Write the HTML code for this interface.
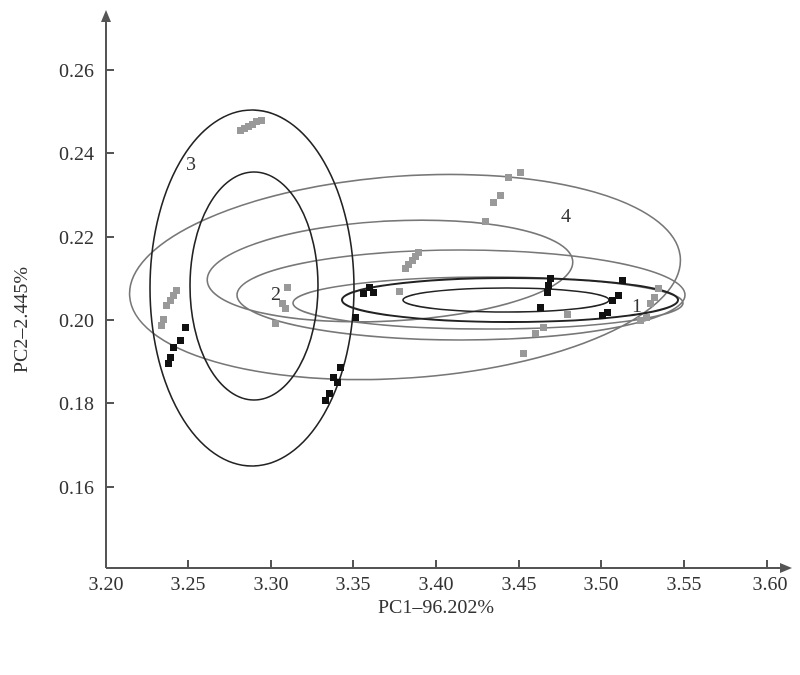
<!DOCTYPE html>
<html><head><style>body{margin:0;background:#fff}svg text{font-family:"Liberation Serif",serif;fill:#333}</style></head><body>
<svg width="800" height="670" xmlns="http://www.w3.org/2000/svg">
<g stroke="#555" stroke-width="2" fill="none">
<line x1="106" y1="568" x2="785" y2="568"/><line x1="106" y1="568" x2="106" y2="18"/>
</g>
<polygon points="106,10 101,22 111,22" fill="#555"/>
<polygon points="792,568 780,563 780,573" fill="#555"/>
<g stroke="#555" stroke-width="2">
<line x1="188" y1="568" x2="188" y2="560"/><line x1="271" y1="568" x2="271" y2="560"/><line x1="353" y1="568" x2="353" y2="560"/><line x1="436" y1="568" x2="436" y2="560"/><line x1="519" y1="568" x2="519" y2="560"/><line x1="601" y1="568" x2="601" y2="560"/><line x1="684" y1="568" x2="684" y2="560"/><line x1="767" y1="568" x2="767" y2="560"/>
<line x1="106" y1="70" x2="114" y2="70"/><line x1="106" y1="153" x2="114" y2="153"/><line x1="106" y1="237" x2="114" y2="237"/><line x1="106" y1="320" x2="114" y2="320"/><line x1="106" y1="403" x2="114" y2="403"/><line x1="106" y1="487" x2="114" y2="487"/>
</g>
<g font-size="20" text-anchor="end">
<text x="94" y="77">0.26</text><text x="94" y="160">0.24</text><text x="94" y="244">0.22</text><text x="94" y="327">0.20</text><text x="94" y="410">0.18</text><text x="94" y="494">0.16</text>
</g>
<g font-size="20" text-anchor="middle">
<text x="106" y="590">3.20</text><text x="188" y="590">3.25</text><text x="271" y="590">3.30</text><text x="353" y="590">3.35</text><text x="436" y="590">3.40</text><text x="519" y="590">3.45</text><text x="601" y="590">3.50</text><text x="684" y="590">3.55</text><text x="770" y="590">3.60</text>
<text x="436" y="613">PC1–96.202%</text>
<text transform="translate(27,320) rotate(-90)">PC2–2.445%</text>
</g>
<g fill="none" stroke="#777" stroke-width="1.6">
<ellipse cx="405" cy="277" rx="276" ry="101" transform="rotate(-4 405 277)"/>
<ellipse cx="390" cy="271" rx="183" ry="50" transform="rotate(-3 390 271)"/>
<ellipse cx="461" cy="295" rx="224" ry="45"/>
<ellipse cx="488" cy="303" rx="195" ry="26"/>
</g>
<g fill="none" stroke="#222" stroke-width="1.6">
<ellipse cx="252" cy="288" rx="102" ry="178"/>
<ellipse cx="254" cy="286" rx="64" ry="114"/>
<ellipse cx="510" cy="300" rx="168" ry="22" stroke-width="2"/>
<ellipse cx="506" cy="300" rx="103" ry="12"/>
</g>
<g font-size="20"><text x="186" y="170">3</text><text x="271" y="300">2</text><text x="561" y="222">4</text><text x="632" y="312">1</text></g>
<g fill="#999">
<rect x="237" y="127" width="7" height="7"/><rect x="241" y="125" width="7" height="7"/><rect x="245" y="123" width="7" height="7"/><rect x="249" y="121" width="7" height="7"/><rect x="253" y="118" width="7" height="7"/><rect x="258" y="117" width="7" height="7"/>
<rect x="158" y="322" width="7" height="7"/><rect x="160" y="316" width="7" height="7"/><rect x="163" y="302" width="7" height="7"/><rect x="167" y="297" width="7" height="7"/><rect x="170" y="292" width="7" height="7"/><rect x="173" y="287" width="7" height="7"/>
<rect x="284" y="284" width="7" height="7"/><rect x="279" y="300" width="7" height="7"/><rect x="282" y="305" width="7" height="7"/><rect x="272" y="320" width="7" height="7"/>
<rect x="402" y="265" width="7" height="7"/><rect x="405" y="261" width="7" height="7"/><rect x="409" y="257" width="7" height="7"/><rect x="412" y="253" width="7" height="7"/><rect x="415" y="249" width="7" height="7"/><rect x="396" y="288" width="7" height="7"/>
<rect x="482" y="218" width="7" height="7"/><rect x="490" y="199" width="7" height="7"/><rect x="497" y="192" width="7" height="7"/><rect x="505" y="174" width="7" height="7"/><rect x="517" y="169" width="7" height="7"/>
<rect x="540" y="324" width="7" height="7"/><rect x="532" y="330" width="7" height="7"/><rect x="520" y="350" width="7" height="7"/><rect x="564" y="311" width="7" height="7"/><rect x="544" y="289" width="7" height="7"/>
<rect x="637" y="317" width="7" height="7"/><rect x="643" y="314" width="7" height="7"/><rect x="647" y="300" width="7" height="7"/><rect x="651" y="294" width="7" height="7"/><rect x="655" y="285" width="7" height="7"/>
</g>
<g fill="#111">
<rect x="165" y="360" width="7" height="7"/><rect x="167" y="354" width="7" height="7"/><rect x="170" y="344" width="7" height="7"/><rect x="177" y="337" width="7" height="7"/><rect x="182" y="324" width="7" height="7"/>
<rect x="337" y="364" width="7" height="7"/><rect x="330" y="374" width="7" height="7"/><rect x="334" y="379" width="7" height="7"/><rect x="326" y="390" width="7" height="7"/><rect x="322" y="397" width="7" height="7"/>
<rect x="352" y="314" width="7" height="7"/><rect x="360" y="290" width="7" height="7"/><rect x="366" y="284" width="7" height="7"/><rect x="370" y="289" width="7" height="7"/>
<rect x="547" y="275" width="7" height="7"/><rect x="545" y="282" width="7" height="7"/><rect x="544" y="289" width="7" height="7"/><rect x="537" y="304" width="7" height="7"/>
<rect x="619" y="277" width="7" height="7"/><rect x="615" y="292" width="7" height="7"/><rect x="609" y="297" width="7" height="7"/><rect x="604" y="309" width="7" height="7"/><rect x="599" y="312" width="7" height="7"/>
</g>
</svg>
</body></html>
